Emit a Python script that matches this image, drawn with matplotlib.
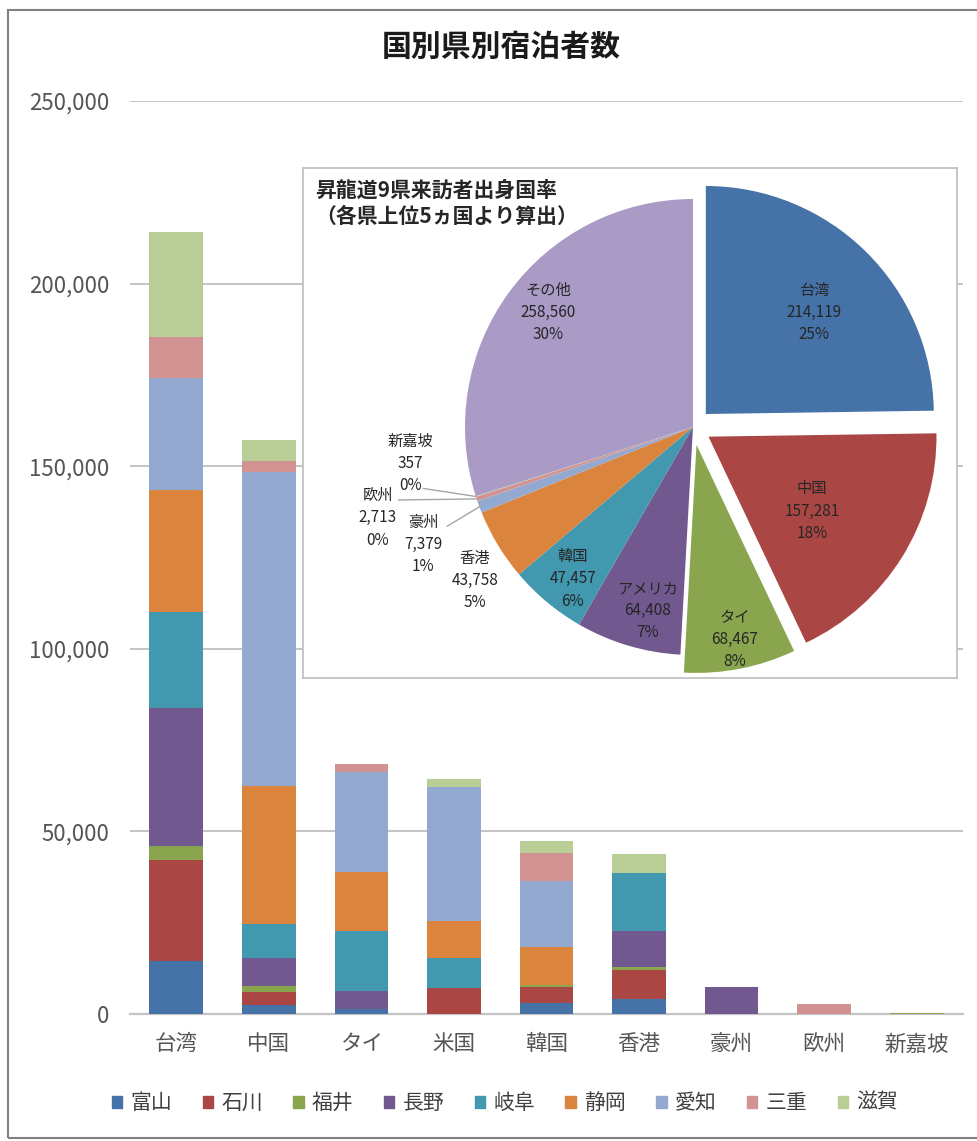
import matplotlib.pyplot as plt
import matplotlib as mpl
from matplotlib.patches import Rectangle, Patch
from matplotlib.ticker import FuncFormatter
import numpy as np

mpl.rcParams['font.family'] = ['Noto Sans CJK JP', 'DejaVu Sans']

# ---- stacked bars: guests per country, split by prefecture ----
countries = ['台湾', '中国', 'タイ', '米国', '韓国', '香港', '豪州', '欧州', '新嘉坡']
prefs = ['富山', '石川', '福井', '長野', '岐阜', '静岡', '愛知', '三重', '滋賀']

toyama   = [14400, 2400, 1500, 0, 2900, 4200, 0, 0, 0]
ishikawa = [27800, 3600, 0, 7000, 4400, 7800, 0, 0, 0]
fukui    = [3800, 1700, 0, 0, 600, 800, 0, 0, 357]
nagano   = [37900, 7500, 4800, 0, 0, 10000, 7379, 0, 0]
gifu     = [26200, 9500, 16500, 8400, 0, 15830, 0, 0, 0]
shizuoka = [33500, 37600, 16200, 10100, 10460, 0, 0, 0, 0]
aichi    = [30650, 86200, 27400, 36700, 18180, 0, 0, 0, 0]
mie      = [11150, 3000, 2067, 0, 7460, 0, 0, 2713, 0]
shiga    = [28719, 5781, 0, 2208, 3457, 5128, 0, 0, 0]

# ---- pie: share of visitors by origin ----
pie_names = ['台湾', '中国', 'タイ', 'アメリカ', '韓国', '香港', '豪州', '欧州', '新嘉坡', 'その他']
pie_values = [214119, 157281, 68467, 64408, 47457, 43758, 7379, 2713, 357, 258560]
pie_pct = ['25%', '18%', '8%', '7%', '6%', '5%', '1%', '0%', '0%', '30%']

colors = ['#4572A7', '#AA4643', '#89A54E', '#71588F', '#4198AF',
          '#DB843D', '#93A9CF', '#D19392', '#B9CD96']
pie_colors = colors + ['#A99BC6']

W, H = 978, 1141
fig = plt.figure(figsize=(W / 100, H / 100), dpi=100)

def px_rect(x0, y0, x1, y1):
    # pixel box (top-left origin) -> figure fraction
    return [x0 / W, 1 - y1 / H, (x1 - x0) / W, (y1 - y0) / H]

# outer chart border
fig.add_artist(Rectangle((8 / W, 1 - 1138 / H), 1.2, (1138 - 10) / H,
                         transform=fig.transFigure, fill=False,
                         ec='#808080', lw=1.5))

fig.text(501 / W, 1 - 47 / H, '国別県別宿泊者数', ha='center', va='center',
         fontsize=21.5, fontweight='bold', color='#1a1a1a')

ax = fig.add_axes(px_rect(130, 101, 963, 1014))
series = [toyama, ishikawa, fukui, nagano, gifu, shizuoka, aichi, mie, shiga]
x = np.arange(len(countries))
bottom = np.zeros(len(countries))
for name, vals, c in zip(prefs, series, colors):
    ax.bar(x, vals, 0.58, bottom=bottom, color=c, label=name, zorder=3)
    bottom += np.array(vals)

ax.set_xlim(-0.5, len(countries) - 0.5)
ax.set_ylim(0, 250000)
ax.set_yticks(np.arange(0, 250001, 50000))
ax.yaxis.set_major_formatter(FuncFormatter(lambda v, p: f'{int(v):,}'))
ax.set_xticks(x)
ax.set_xticklabels(countries)
ax.yaxis.grid(True, color='#C4C4C4', lw=1.4, zorder=0)
ax.set_axisbelow(True)
for s in ['top', 'right', 'left']:
    ax.spines[s].set_visible(False)
ax.spines['bottom'].set_color('#C4C4C4')
ax.spines['bottom'].set_linewidth(1.6)
ax.tick_params(axis='y', length=0, pad=15, labelsize=16, labelcolor='#555555')
ax.tick_params(axis='x', length=0, pad=14, labelsize=15.5, labelcolor='#555555')

handles = [Patch(color=c) for c in colors]
fig.legend(handles, prefs, loc='center', bbox_to_anchor=(505 / W, 1 - 1103 / H),
           ncol=9, frameon=False, fontsize=15, handlelength=0.5, handleheight=0.5,
           handletextpad=0.4, columnspacing=1.45, labelcolor='#404040')

# ---- inset pie, axes measured in pixels so aspect is 1:1 ----
bw, bh = 957 - 303, 678 - 168
pax = fig.add_axes(px_rect(303, 168, 957, 678), zorder=5)
pax.set_xlim(0, bw)
pax.set_ylim(0, bh)
pax.set_xticks([])
pax.set_yticks([])
pax.set_facecolor('white')
for s in pax.spines.values():
    s.set_color('#BDBDBD')
    s.set_linewidth(1.2)

cx, cy, R = 390, 251, 228
explode_frac = [0.08, 0.08, 0.08, 0, 0, 0, 0, 0, 0, 0]
wedges, _ = pax.pie(pie_values, colors=pie_colors, startangle=90, counterclock=False,
                    explode=[e * R for e in explode_frac], center=(cx, cy),
                    radius=R, frame=True, wedgeprops=dict(linewidth=0))
pax.set_xlim(0, bw)
pax.set_ylim(0, bh)
pax.set_aspect('auto')
for w in wedges:
    w.set_clip_on(False)

label_frac = [0.65, 0.56, 0.87, 0.83, 0.85, 1.17, 1.29, 1.44, 1.25, 0.81]
label_dang = [-2.3, -3.8, 0, 2.6, 1.5, 4, 3, -2.3, -10.4, -2.2]
leader = {6: (24, 18), 7: (21, 18), 8: (13, -25)}

for i, w in enumerate(wedges):
    mid = 0.5 * (w.theta1 + w.theta2)
    a = np.deg2rad(mid + label_dang[i])
    wx, wy = w.center
    tx = wx + label_frac[i] * R * np.cos(a)
    ty = wy + label_frac[i] * R * np.sin(a)
    txt = f'{pie_names[i]}\n{pie_values[i]:,}\n{pie_pct[i]}'
    pax.text(tx, ty, txt, ha='center', va='center', fontsize=11,
             color='#262626', linespacing=1.4)
    if i in leader:
        dx, dy = leader[i]
        am = np.deg2rad(mid)
        ex, ey = cx + R * np.cos(am), cy + R * np.sin(am)
        pax.plot([tx + dx, ex], [ty + dy, ey], color='#A6A6A6', lw=1.0)

pax.text(12, bh - 12, '昇龍道9県来訪者出身国率\n（各県上位5ヵ国より算出）',
         ha='left', va='top', fontsize=15, fontweight='bold',
         color='#262626', linespacing=1.3)

fig.savefig('out.png', dpi=100)
